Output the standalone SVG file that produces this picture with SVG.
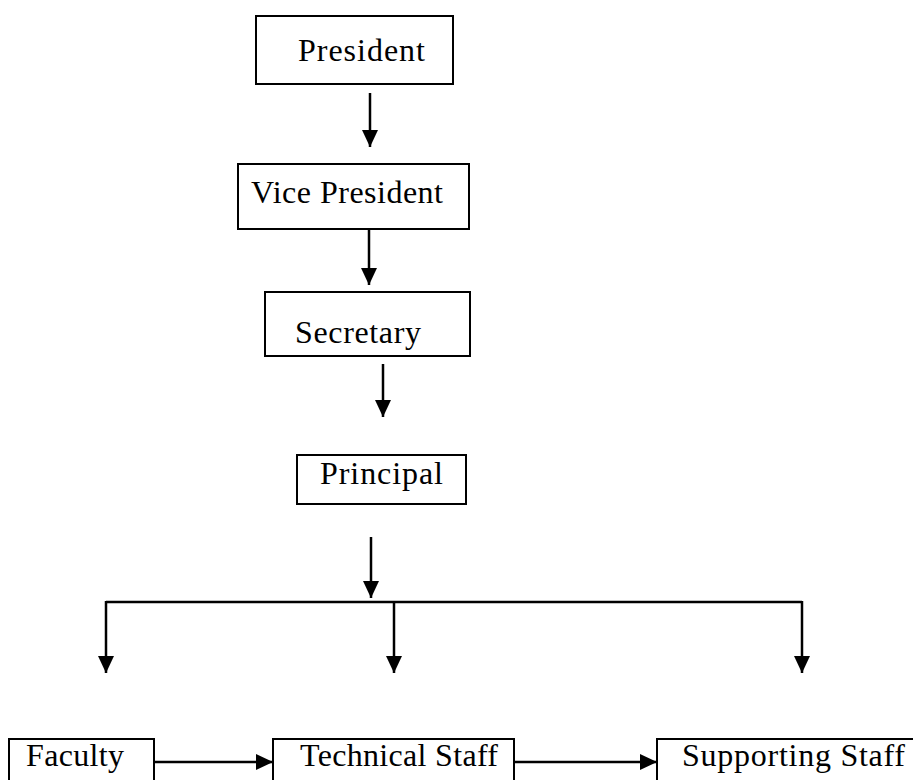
<svg xmlns="http://www.w3.org/2000/svg" width="913" height="780" viewBox="0 0 913 780">
<style>
.box{fill:#fff;stroke:#000;stroke-width:2}
.ln{fill:none;stroke:#000;stroke-width:2.5}
text{font-family:'Liberation Serif','DejaVu Serif',serif;font-size:32px;fill:#000}
</style>
<defs>
<marker id="ah" viewBox="0 0 17 16" refX="17" refY="8" markerWidth="17" markerHeight="16" markerUnits="userSpaceOnUse" orient="auto">
<path d="M0,0 L17,8 L0,16 z" fill="#000"/>
</marker>
</defs>
<rect width="913" height="780" fill="#fff"/>
<g id="connectors">
<line class="ln" x1="370" y1="93" x2="370" y2="147" marker-end="url(#ah)"/>
<line class="ln" x1="369" y1="230" x2="369" y2="285" marker-end="url(#ah)"/>
<line class="ln" x1="383" y1="364" x2="383" y2="417" marker-end="url(#ah)"/>
<line class="ln" x1="371" y1="537" x2="371" y2="598" marker-end="url(#ah)"/>
<polyline class="ln" points="106,602 802,602"/>
<line class="ln" x1="106" y1="601" x2="106" y2="673" marker-end="url(#ah)"/>
<line class="ln" x1="802" y1="601" x2="802" y2="673" marker-end="url(#ah)"/>
<line class="ln" x1="394" y1="602" x2="394" y2="673" marker-end="url(#ah)"/>
<line class="ln" x1="154" y1="762" x2="273" y2="762" marker-end="url(#ah)"/>
<line class="ln" x1="514" y1="762" x2="657" y2="762" marker-end="url(#ah)"/>
</g>
<g id="president">
<rect class="box" x="256" y="16" width="197" height="68"/>
<text x="298" y="61" textLength="127" font-family="Liberation Serif, serif">President</text>
</g>
<g id="vice-president">
<rect class="box" x="238" y="164" width="231" height="65"/>
<text x="251" y="203" textLength="192" font-family="Liberation Serif, serif">Vice President</text>
</g>
<g id="secretary">
<rect class="box" x="265" y="292" width="205" height="64"/>
<text x="295" y="343" textLength="126" font-family="Liberation Serif, serif">Secretary</text>
</g>
<g id="principal">
<rect class="box" x="297" y="455" width="169" height="49"/>
<text x="320" y="484" textLength="123" font-family="Liberation Serif, serif">Principal</text>
</g>
<g id="faculty">
<rect class="box" x="9" y="739" width="145" height="60"/>
<text x="26" y="766" textLength="98" font-family="Liberation Serif, serif">Faculty</text>
</g>
<g id="technical-staff">
<rect class="box" x="273" y="739" width="241" height="60"/>
<text x="300" y="766" textLength="198" font-family="Liberation Serif, serif">Technical Staff</text>
</g>
<g id="supporting-staff">
<rect class="box" x="657" y="739" width="270" height="60"/>
<text x="682" y="766" textLength="223" font-family="Liberation Serif, serif">Supporting Staff</text>
</g>
</svg>
